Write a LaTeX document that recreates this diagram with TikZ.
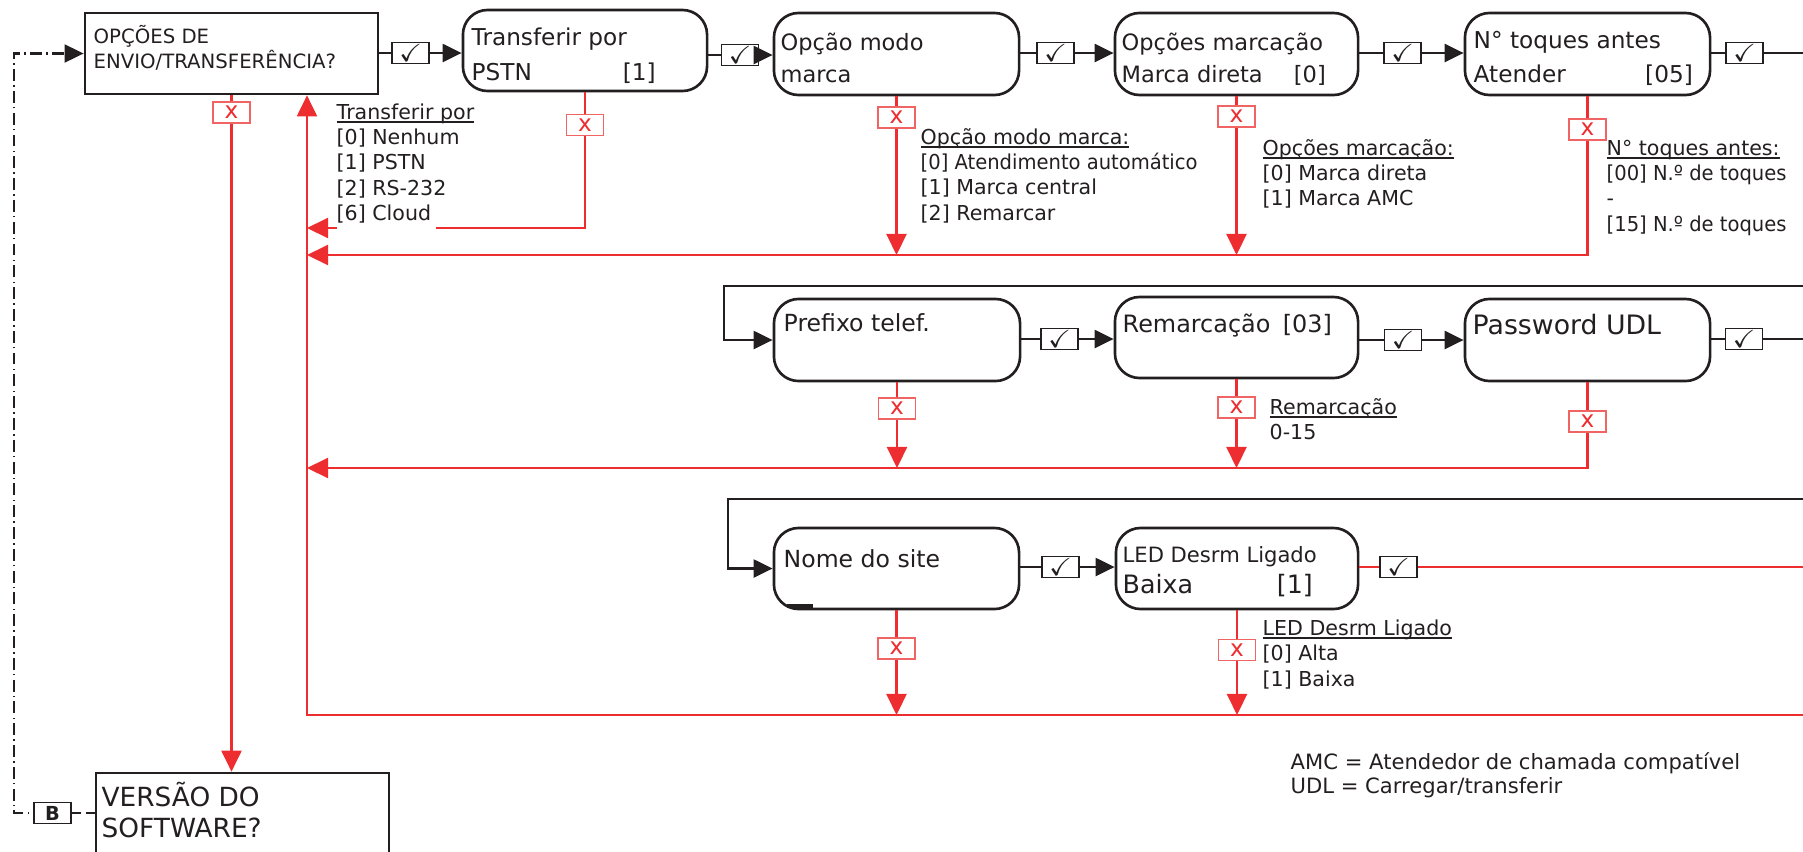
\documentclass[tikz,border=0pt]{standalone}
\usepackage{amssymb}
\usepackage{fontspec}
\setmainfont{DejaVu Sans}
\newfontfamily\narrowfont{DejaVu Sans}[FakeStretch=0.95]
\usetikzlibrary{arrows.meta}
\definecolor{ink}{RGB}{35,31,32}
\definecolor{xred}{RGB}{237,45,48}
\definecolor{xredlight}{RGB}{240,100,100}
\newcommand{\fsz}[2]{\fontsize{#1}{#2}\selectfont}
\newcommand{\annblock}[1]{\begin{tabular}[t]{@{}l@{}}#1\end{tabular}}
\newcommand{\ulx}[1]{\setbox0\hbox{#1}\rlap{\rule[-1.15pt]{\wd0}{0.5pt}}\box0}
\newcommand{\whitebg}[1]{{\setlength{\fboxsep}{0pt}\colorbox{white}{\rule[-2.3pt]{0pt}{2.3pt}#1}}}
\tikzset{
  sqbox/.style={draw=ink, line width=0.75pt, inner sep=0pt},
  rbox/.style={sqbox, rounded corners=7pt},
  txt/.style={inner sep=0pt, anchor=base west, text=ink},
  ann/.style={inner sep=0pt, anchor=base west, text=ink, font=\fsz{5.85}{7.25}},
  okbox/.style={draw=ink, line width=0.45pt, fill=white, minimum width=0.37cm, minimum height=0.21cm, inner sep=0pt, font=\fsz{7}{7}, text=ink},
  nobox/.style={draw=xredlight, line width=0.45pt, fill=white, minimum width=0.37cm, minimum height=0.21cm, inner sep=0pt, font=\fsz{6.6}{7}, text=xred},
  blk/.style={draw=ink, line width=0.7pt},
  blkarrow/.style={blk, -{Triangle[length=5.4pt,width=5.1pt]}},
  redline/.style={draw=xred, line width=0.65pt},
  redarrow/.style={redline, -{Triangle[length=6pt,width=5.7pt]}},
  chainline/.style={draw=ink, line width=0.6pt, dash pattern=on 3.4pt off 1.2pt on 0.4pt off 1.2pt},
}
\begin{document}
\begin{tikzpicture}[x=0.01cm, y=-0.01cm]
\useasboundingbox (0,0) rectangle (1803,851);
\clip (0,0) rectangle (1803,851);

% ---------- boxes
\node[sqbox, minimum width=2.93cm, minimum height=0.81cm] (A) at (231.5,53.5) {};
\node[rbox, minimum width=2.44cm, minimum height=0.81cm] (B) at (585,50.5) {};
\node[rbox, minimum width=2.45cm, minimum height=0.82cm] (C) at (896.5,54) {};
\node[rbox, minimum width=2.43cm, minimum height=0.82cm] (D) at (1236.5,54) {};
\node[rbox, minimum width=2.45cm, minimum height=0.82cm] (E) at (1587.5,54) {};
\node[rbox, minimum width=2.46cm, minimum height=0.82cm] (F) at (897,340) {};
\node[rbox, minimum width=2.43cm, minimum height=0.81cm] (G) at (1236.5,337.5) {};
\node[rbox, minimum width=2.45cm, minimum height=0.82cm] (H) at (1587.5,340) {};
\node[rbox, minimum width=2.45cm, minimum height=0.81cm] (I) at (896.5,568.5) {};
\node[rbox, minimum width=2.42cm, minimum height=0.81cm] (J) at (1237,568.5) {};
\node[sqbox, minimum width=2.93cm, minimum height=1.07cm] (V) at (242.5,826.5) {};

% ---------- helper coordinates
\coordinate (e1) at (1803,53);
\coordinate (e2) at (1803,339);
\coordinate (e3) at (1803,567);
\coordinate (e4) at (1803,715);
\coordinate (t2) at (1803,286);
\coordinate (t3) at (1803,499);
\coordinate (k2) at (724,286);
\coordinate (k3) at (728,499);
\coordinate (L1) at (0,228);
\coordinate (L2) at (0,255);
\coordinate (L3) at (0,468);
\coordinate (R) at (307,715);
\coordinate (d1) at (14,813);

% ---------- check boxes
\node[okbox] (c1) at (410.5,53) {$\checkmark$};
\node[okbox] (c2) at (740,55) {$\checkmark$};
\node[okbox] (c3) at (1055.5,53) {$\checkmark$};
\node[okbox] (c4) at (1402.5,53) {$\checkmark$};
\node[okbox] (c5) at (1744.5,53) {$\checkmark$};
\node[okbox] (c6) at (1059.5,339) {$\checkmark$};
\node[okbox] (c7) at (1403,340) {$\checkmark$};
\node[okbox] (c8) at (1744,339) {$\checkmark$};
\node[okbox] (c9) at (1060.5,567) {$\checkmark$};
\node[okbox] (c10) at (1398.5,567) {$\checkmark$};

% ---------- black connectors
\draw[blk] (A.east |- c1) -- (c1);
\draw[blkarrow] (c1) -- (B.west |- c1);
\draw[blk] (B.east |- c2) -- (c2);
\draw[blkarrow] (c2) -- (C.west |- c2);
\draw[blk] (C.east |- c3) -- (c3);
\draw[blkarrow] (c3) -- (D.west |- c3);
\draw[blk] (D.east |- c4) -- (c4);
\draw[blkarrow] (c4) -- (E.west |- c4);
\draw[blk] (E.east |- c5) -- (c5) -- (e1);

\draw[blkarrow] (t2) -- (k2) -- (k2 |- F.west) -- (F.west);
\draw[blk] (F.east |- c6) -- (c6);
\draw[blkarrow] (c6) -- (G.west |- c6);
\draw[blk] (G.east |- c7) -- (c7);
\draw[blkarrow] (c7) -- (H.west |- c7);
\draw[blk] (H.east |- c8) -- (c8) -- (e2);

\draw[blkarrow] (t3) -- (k3) -- (k3 |- I.west) -- (I.west);
\draw[blk] (I.east |- c9) -- (c9);
\draw[blkarrow] (c9) -- (J.west |- c9);
\draw[redline] (J.east |- c10) -- (c10) -- (e3);

% ---------- red connectors
\draw[redarrow] (A.south) -- (A.south |- V.north);
\draw[redarrow] (B.south) -- (B.south |- L1) -- (R |- L1);
\draw[redarrow] (C.south) -- (C.south |- L2);
\draw[redarrow] (D.south) -- (D.south |- L2);
\draw[redarrow] (E.south) -- (E.south |- L2) -- (R |- L2);
\draw[redarrow] (F.south) -- (F.south |- L3);
\draw[redarrow] (G.south) -- (G.south |- L3);
\draw[redarrow] (H.south) -- (H.south |- L3) -- (R |- L3);
\draw[redarrow] (I.south) -- (I.south |- R);
\draw[redarrow] (J.south) -- (J.south |- R);
\draw[redarrow] (e4) -- (R) -- (R |- A.south);

% ---------- x boxes
\node[nobox] (xa) at (231.5,112.5) {x};
\node[nobox] (xb) at (585,125) {x};
\node[nobox] (xc) at (896.5,117.5) {x};
\node[nobox] (xd) at (1236.5,116.5) {x};
\node[nobox] (xe) at (1587.5,129.5) {x};
\node[nobox] (xf) at (897,408.5) {x};
\node[nobox] (xg) at (1236.5,407.5) {x};
\node[nobox] (xh) at (1587.5,421.5) {x};
\node[nobox] (xi) at (896.5,648.5) {x};
\node[nobox] (xj) at (1237,650) {x};

% ---------- B link (dash-dot)
\node[okbox, font=\fsz{5.5}{6}\bfseries] (Bx) at (52.5,813) {B};
\draw[blk, line width=0.6pt, dash pattern=on 2.5pt off 1.5pt] (V.west |- Bx) -- (Bx);
\draw[chainline, dash phase=3.4pt, -{Triangle[length=5.4pt,width=5.1pt]}] (Bx) -- (d1) -- (d1 |- A.west) -- (A.west);

% small mark in Nome do site box
\draw[ink, line width=1pt] (787,606) -- (813,606);

% ---------- box texts
\node[txt, font=\fsz{5.6}{6}] (At1) at (93,43) {OPÇÕES DE};
\node[txt, font=\fsz{5.6}{6}] (At2) at (93,68) {ENVIO/TRANSFERÊNCIA?};
\node[txt, font=\fsz{6.6}{7}] (Bt1) at (471,45.5) {Transferir por};
\node[txt, font=\fsz{6.6}{7}] (Bt2) at (471,80) {\makebox[1.84cm][l]{PSTN\hfill[1]}};
\node[txt, font=\fsz{6.4}{7}] (Ct1) at (780,50) {Opção modo};
\node[txt, font=\fsz{6.4}{7}] (Ct2) at (780,82) {marca};
\node[txt, font=\fsz{6.4}{7}] (Dt1) at (1121,50) {Opções marcação};
\node[txt, font=\fsz{6.4}{7}] (Dt2) at (1121,82) {\makebox[2.04cm][l]{Marca direta\hfill[0]}};
\node[txt, font=\fsz{6.6}{7}] (Et1) at (1473,48) {N° toques antes};
\node[txt, font=\fsz{6.6}{7}] (Et2) at (1473,82) {\makebox[2.19cm][l]{Atender\hfill[05]}};
\node[txt, font=\fsz{6.7}{7}] (Ft) at (783,331) {Prefixo telef.};
\node[txt, font=\fsz{6.8}{7}] (Gt) at (1122,332) {\makebox[2.09cm][l]{Remarcação\hfill[03]}};
\node[txt, font=\fsz{7.6}{8}] (Ht) at (1472,334) {Password UDL};
\node[txt, font=\fsz{6.7}{7}] (It) at (783,567) {Nome do site};
\node[txt, font=\fsz{6.0}{7}] (Jt1) at (1122,562) {LED Desrm Ligado};
\node[txt, font=\fsz{7.2}{8}] (Jt2) at (1122,593) {\makebox[1.90cm][l]{Baixa\hfill[1]}};
\node[txt, font=\fsz{7.5}{8}] (Vt1) at (101,806) {VERSÃO DO};
\node[txt, font=\fsz{7.5}{8}] (Vt2) at (101,837) {SOFTWARE?};

% ---------- annotations
\node[ann] (n1) at (336,119) {\annblock{\ulx{Transferir por}\\{}[0] Nenhum\\{}[1] PSTN\\{}[2] RS-232\\\whitebg{[6] Cloud\hspace{1.5pt}}}};
\node[ann] (n2) at (920,144) {\annblock{\ulx{Opção modo marca:}\\{\narrowfont [0] Atendimento automático}\\{}[1] Marca central\\{}[2] Remarcar}};
\node[ann] (n3) at (1262,155) {\annblock{\ulx{Opções marcação:}\\{}[0] Marca direta\\{}[1] Marca AMC}};
\node[ann] (n4) at (1606,155) {\annblock{\ulx{N° toques antes:}\\{\narrowfont [00] N.º de toques}\\-\\{\narrowfont [15] N.º de toques}}};
\node[ann] (n5) at (1269,414) {\annblock{\ulx{Remarcação}\\0-15}};
\node[ann] (n6) at (1262,635) {\annblock{\ulx{LED Desrm Ligado}\\{}[0] Alta\\{}[1] Baixa}};
\node[ann, font=\fsz{6}{7.1}] (n7) at (1290,769) {\annblock{AMC = Atendedor de chamada compatível\\UDL = Carregar/transferir}};
\end{tikzpicture}
\end{document}
